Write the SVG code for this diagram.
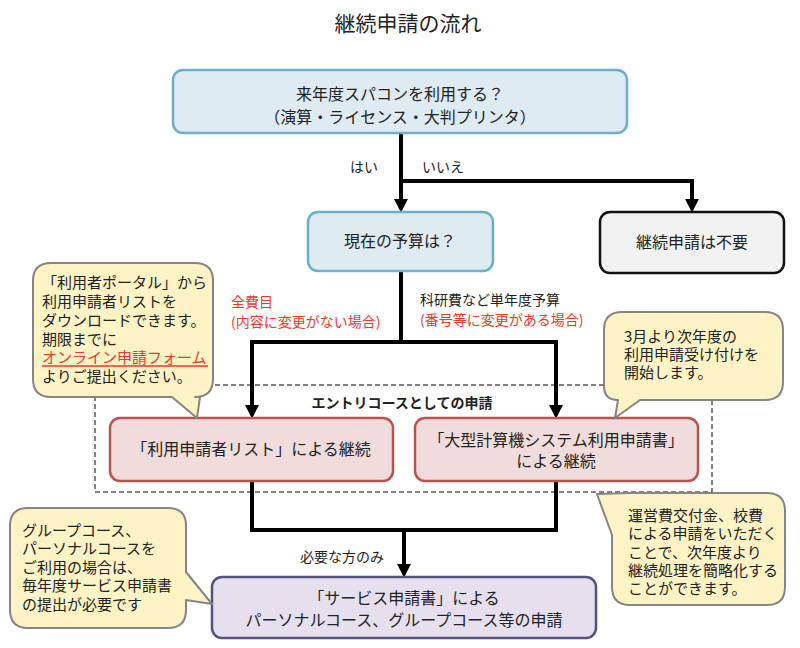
<svg xmlns="http://www.w3.org/2000/svg" width="800" height="648" viewBox="0 0 800 648">
<defs>
<style>
text { font-family: 'Noto Sans CJK JP','Noto Sans CJK SC',sans-serif; fill:#222; }
.t21 { font-size:21px; }
.t16 { font-size:16px; }
.t15 { font-size:15px; }
.t14 { font-size:14px; }
.red { fill:#e8392e; }
.c { text-anchor:middle; }
.b { font-weight:bold; }
.blue { fill:#deebf2; stroke:#6eaecb; stroke-width:2.5; }
.gray { fill:#f2f2f2; stroke:#111; stroke-width:2.5; }
.pink { fill:#f0dcdb; stroke:#b85450; stroke-width:2.5; }
.purple { fill:#e6e0ee; stroke:#56517e; stroke-width:2.5; }
.call { fill:#fdf3c5; stroke:#858585; stroke-width:2; stroke-linejoin:round; }
.conn { fill:none; stroke:#000; stroke-width:4; }
.dash { fill:none; stroke:#000; stroke-width:1; stroke-dasharray:5,3; }
</style>
<marker id="ah" markerUnits="userSpaceOnUse" markerWidth="14" markerHeight="14" viewBox="0 0 13 13" refX="2" refY="6.5" orient="auto-start-reverse">
<path d="M0,0 L13,6.5 L0,13 Z" fill="#000"/>
</marker>
</defs>

<text class="t21 c" x="408" y="31">継続申請の流れ</text>

<rect class="dash" x="95" y="385" width="617" height="107"/>
<text class="t14 c b" x="402" y="408">エントリコースとしての申請</text>

<g id="connectors">
<path class="conn" d="M401,133 V201" marker-end="url(#ah)"/>
<path class="conn" d="M401,181 H692 V201" marker-end="url(#ah)"/>
<path class="conn" d="M401,271 V342"/>
<path class="conn" d="M252,407 V342 H556 V407" marker-start="url(#ah)" marker-end="url(#ah)"/>
<path class="conn" d="M252,481 V530 H556 V481"/>
<path class="conn" d="M404,530 V566" marker-end="url(#ah)"/>
<text class="t14" x="350" y="172">はい</text>
<text class="t14" x="422" y="172">いいえ</text>
<text class="t14 red" x="231" y="307">全費目</text>
<text class="t14 red" x="231" y="327">(内容に変更がない場合)</text>
<text class="t14" x="420" y="305">科研費など単年度予算</text>
<text class="t14 red" x="420" y="325">(番号等に変更がある場合)</text>
<text class="t14" x="300" y="562">必要な方のみ</text>
</g>

<g id="q1">
<rect class="blue" x="173" y="70" width="454" height="63" rx="10"/>
<text class="t16 c" x="400" y="100">来年度スパコンを利用する？</text>
<text class="t16 c" x="400" y="123">（演算・ライセンス・大判プリンタ）</text>
</g>

<g id="q2">
<rect class="blue" x="308" y="212" width="185" height="59" rx="10"/>
<text class="t16 c" x="400" y="247">現在の予算は？</text>
</g>

<g id="none">
<rect class="gray" x="600" y="212" width="184" height="61" rx="10"/>
<text class="t16 c" x="692" y="248">継続申請は不要</text>
</g>

<g id="list">
<rect class="pink" x="110" y="418" width="283" height="63" rx="10"/>
<text class="t16 c" x="251" y="455">「利用申請者リスト」による継続</text>
</g>

<g id="form">
<rect class="pink" x="415" y="418" width="283" height="63" rx="10"/>
<text class="t16 c" x="556" y="446">「大型計算機システム利用申請書」</text>
<text class="t16 c" x="556" y="467">による継続</text>
</g>

<g id="service">
<rect class="purple" x="212" y="577" width="384" height="61" rx="10"/>
<text class="t16 c" x="404" y="604">「サービス申請書」による</text>
<text class="t16 c" x="404" y="626">パーソナルコース、グループコース等の申請</text>
</g>

<g id="note1">
<path class="call" d="M51,263 H195 Q213,263 213,281 V379 Q213,397 195,397 H200 L197,418 L172,397 H51 Q33,397 33,379 V281 Q33,263 51,263 Z"/>
<text class="t15" x="42" y="288">「利用者ポータル」から</text>
<text class="t15" x="42" y="307">利用申請者リストを</text>
<text class="t15" x="42" y="326">ダウンロードできます。</text>
<text class="t15" x="42" y="345">期限までに</text>
<text class="t15 red" x="42" y="363">オンライン申請フォーム</text>
<line x1="42" y1="366" x2="208" y2="366" stroke="#e8392e" stroke-width="1.5"/>
<text class="t15" x="42" y="382">よりご提出ください。</text>
</g>

<g id="note2">
<path class="call" d="M622,312 H765 Q783,312 783,330 V382 Q783,400 765,400 H640 L615,418 L618,400 Q604,400 604,386 V330 Q604,312 622,312 Z"/>
<text class="t15" x="624" y="342">3月より次年度の</text>
<text class="t15" x="624" y="360">利用申請受け付けを</text>
<text class="t15" x="624" y="378">開始します。</text>
</g>

<g id="note3">
<path class="call" d="M630,493 H767 Q785,493 785,511 V587 Q785,605 767,605 H630 Q612,605 612,587 V535 L597,494 Z"/>
<text class="t15" x="628" y="521">運営費交付金、校費</text>
<text class="t15" x="628" y="539">による申請をいただく</text>
<text class="t15" x="628" y="558">ことで、次年度より</text>
<text class="t15" x="628" y="576">継続処理を簡略化する</text>
<text class="t15" x="628" y="594">ことができます。</text>
</g>

<g id="note4">
<path class="call" d="M28,508 H168 Q186,508 186,526 V572 L212,604 L186,600 V610 Q186,628 168,628 H28 Q10,628 10,610 V526 Q10,508 28,508 Z"/>
<text class="t15" x="22" y="536">グループコース、</text>
<text class="t15" x="22" y="554">パーソナルコースを</text>
<text class="t15" x="22" y="573">ご利用の場合は、</text>
<text class="t15" x="22" y="591">毎年度サービス申請書</text>
<text class="t15" x="22" y="610">の提出が必要です</text>
</g>
</svg>
